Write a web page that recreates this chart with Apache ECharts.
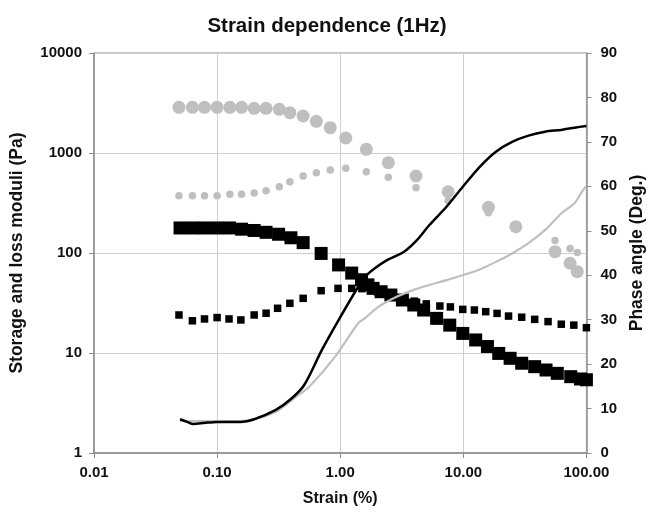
<!DOCTYPE html>
<html>
<head>
<meta charset="utf-8">
<script src="https://cdn.jsdelivr.net/npm/echarts@6/dist/echarts.min.js"></script>
<style>
html,body{margin:0;padding:0;background:#fff;}
#chart{width:654px;height:517px;}
</style>
</head>
<body>
<div id="chart"></div>
<script>
// Gray large circles (storage modulus, sample 2)
const grayBigStrain = [0.049, 0.063, 0.079, 0.10, 0.127, 0.158, 0.20, 0.25, 0.32, 0.39, 0.50, 0.64, 0.83, 1.11, 1.63, 2.46, 4.13, 7.52, 16.0, 26.7, 55.6, 73.6, 84.3];
const grayBigValue  = [2860, 2860, 2860, 2860, 2860, 2860, 2800, 2800, 2735, 2530, 2344, 2075, 1790, 1413, 1088, 800, 589, 410, 286, 183, 103, 79, 65];
// Gray small circles (loss modulus, sample 2)
const graySmallStrain = [0.049, 0.063, 0.079, 0.10, 0.127, 0.158, 0.20, 0.25, 0.32, 0.39, 0.50, 0.64, 0.83, 1.11, 1.63, 2.46, 4.13, 7.52, 16.0, 26.7, 55.6, 73.6, 84.3];
const graySmallValue  = [374, 374, 374, 374, 386, 386, 398, 420, 460, 516, 589, 636, 676, 703, 650, 571, 450, 334, 253, 180, 133, 111, 101];
// Black large squares (storage modulus, sample 1)
const blackBigStrain = [0.05, 0.063, 0.079, 0.10, 0.126, 0.158, 0.20, 0.25, 0.316, 0.398, 0.50, 0.70, 0.97, 1.24, 1.49, 1.68, 1.85, 2.15, 2.58, 3.2, 3.96, 4.76, 6.07, 7.76, 9.9, 12.6, 15.7, 19.4, 24, 29.8, 38, 47, 58, 74.6, 89.5, 100];
const blackBigValue  = [178, 178, 178, 178, 178, 173, 168, 161, 154, 142, 127, 99, 76, 63, 54, 48, 44.3, 41, 38, 33.9, 30.2, 26.9, 22.2, 19, 15.7, 13.5, 11.6, 9.9, 8.85, 7.9, 7.3, 6.76, 6.26, 5.8, 5.5, 5.4];
// Black small squares (loss modulus, sample 1)
const blackSmallStrain = [0.049, 0.063, 0.079, 0.10, 0.125, 0.156, 0.20, 0.25, 0.31, 0.39, 0.50, 0.70, 0.96, 1.24, 1.5, 2.0, 2.6, 3.2, 4.0, 5.0, 6.45, 7.85, 9.9, 12.3, 15.2, 18.8, 23.3, 29.8, 38, 48.8, 62.5, 79, 100];
const blackSmallValue  = [24, 21, 21.9, 22.6, 21.9, 21.4, 24, 25, 28, 31.4, 35.2, 42, 44.3, 44.3, 44, 41, 38, 35, 33, 31, 29.5, 28.9, 27.3, 26.9, 25.9, 24.9, 23.4, 22.8, 21.7, 20.6, 19.4, 19, 17.9];
// Phase angle lines (right axis)
const blackLineStrain = [0.050, 0.057, 0.064, 0.08, 0.10, 0.155, 0.20, 0.30, 0.40, 0.51, 0.71, 0.97, 1.4, 1.6, 1.9, 2.4, 3.3, 4.2, 5.3, 7.3, 9.9, 13.6, 18.4, 24.9, 33.8, 46.2, 62.5, 80, 100];
const blackLineAngle  = [7.6, 7.0, 6.5, 6.8, 7.0, 7.0, 7.6, 9.7, 12.2, 15.3, 23.2, 29.9, 37.4, 39.7, 41.5, 43.4, 45.3, 47.9, 51.3, 55.4, 59.9, 64.4, 67.8, 70.0, 71.4, 72.3, 72.7, 73.2, 73.6];
const grayLineStrain = [0.05, 0.10, 0.155, 0.20, 0.30, 0.44, 0.56, 0.91, 1.4, 1.58, 1.9, 2.15, 2.9, 3.96, 5.3, 7.3, 9.9, 13.6, 18.4, 24.9, 33.8, 46.2, 62.5, 80, 92, 100];
const grayLineAngle  = [7.2, 7.2, 7.2, 7.6, 9.3, 12.7, 14.9, 21.7, 29.2, 30.3, 32.2, 33.3, 35.2, 36.7, 37.8, 38.9, 40.0, 41.3, 43.0, 44.9, 47.2, 50.2, 53.9, 56.2, 58.8, 60.1];

const xTickLabels = ['0.01', '0.10', '1.00', '10.00', '100.00'];
const yLeftTickLabels = ['1', '10', '100', '1000', '10000'];

const pairs = (xs, ys) => xs.map((x, i) => [x, ys[i]]);
const FONT = 'Liberation Sans, Arial, sans-serif';
const axisLineColor = '#8c8c8c';
const gridColor = '#cfcfcf';
const gray = '#bfbfbf';

const chart = echarts.init(document.getElementById('chart'), null, {renderer: 'canvas'});
chart.setOption({
  animation: false,
  backgroundColor: '#fff',
  title: {
    text: 'Strain dependence (1Hz)',
    left: 'center',
    top: 11,
    textStyle: {fontFamily: FONT, fontSize: 20.5, fontWeight: 'bold', color: '#111'}
  },
  grid: {left: 94, right: 58, top: 53, bottom: 64, show: true, borderColor: axisLineColor, borderWidth: 1, backgroundColor: 'transparent'},
  xAxis: {
    type: 'log', logBase: 10, min: 0.01, max: 100,
    name: 'Strain (%)', nameLocation: 'middle', nameGap: 38,
    nameTextStyle: {fontFamily: FONT, fontSize: 16, fontWeight: 'bold', color: '#111'},
    axisLine: {lineStyle: {color: axisLineColor, width: 1.5}},
    axisTick: {show: true, inside: false, length: 5, lineStyle: {color: axisLineColor}},
    minorTick: {show: false},
    splitLine: {show: true, lineStyle: {color: gridColor, width: 1}},
    axisLabel: {
      margin: 12, fontFamily: FONT, fontSize: 15, fontWeight: 'bold', color: '#111',
      formatter: v => xTickLabels[Math.round(Math.log10(v)) + 2]
    }
  },
  yAxis: [{
    type: 'log', logBase: 10, min: 1, max: 10000, position: 'left',
    name: 'Storage and loss moduli (Pa)', nameLocation: 'middle', nameGap: 68, nameRotate: 90,
    nameTextStyle: {fontFamily: FONT, fontSize: 17.5, fontWeight: 'bold', color: '#111'},
    axisLine: {show: true, lineStyle: {color: axisLineColor, width: 1.5}},
    axisTick: {show: true, inside: false, length: 5, lineStyle: {color: axisLineColor}},
    splitLine: {show: true, lineStyle: {color: gridColor, width: 1}},
    axisLabel: {
      margin: 12, fontFamily: FONT, fontSize: 15, fontWeight: 'bold', color: '#111',
      formatter: v => yLeftTickLabels[Math.round(Math.log10(v))]
    }
  }, {
    type: 'value', min: 0, max: 90, interval: 10, position: 'right',
    name: 'Phase angle (Deg.)', nameLocation: 'middle', nameGap: 38, nameRotate: 90,
    nameTextStyle: {fontFamily: FONT, fontSize: 17.5, fontWeight: 'bold', color: '#111'},
    axisLine: {show: true, lineStyle: {color: axisLineColor, width: 1.5}},
    axisTick: {show: true, inside: false, length: 5, lineStyle: {color: axisLineColor}},
    splitLine: {show: false},
    axisLabel: {margin: 14, fontFamily: FONT, fontSize: 15, fontWeight: 'bold', color: '#111'}
  }],
  series: [
    {type: 'scatter', name: 'G\' 2', data: pairs(grayBigStrain, grayBigValue), symbol: 'circle', symbolSize: 13, itemStyle: {color: gray, opacity: 1}},
    {type: 'scatter', name: 'G\'\' 2', data: pairs(graySmallStrain, graySmallValue), symbol: 'circle', symbolSize: 7.5, itemStyle: {color: gray, opacity: 1}},
    {type: 'scatter', name: 'G\' 1', data: pairs(blackBigStrain, blackBigValue), symbol: 'rect', symbolSize: 13, itemStyle: {color: '#000', opacity: 1}},
    {type: 'scatter', name: 'G\'\' 1', data: pairs(blackSmallStrain, blackSmallValue), symbol: 'rect', symbolSize: 7.5, itemStyle: {color: '#000', opacity: 1}},
    {type: 'line', name: 'delta 2', yAxisIndex: 1, data: pairs(grayLineStrain, grayLineAngle), showSymbol: false, smooth: 0.3, lineStyle: {color: gray, width: 2.2}},
    {type: 'line', name: 'delta 1', yAxisIndex: 1, data: pairs(blackLineStrain, blackLineAngle), showSymbol: false, smooth: 0.3, lineStyle: {color: '#000', width: 2.5}}
  ]
});
</script>
</body>
</html>
